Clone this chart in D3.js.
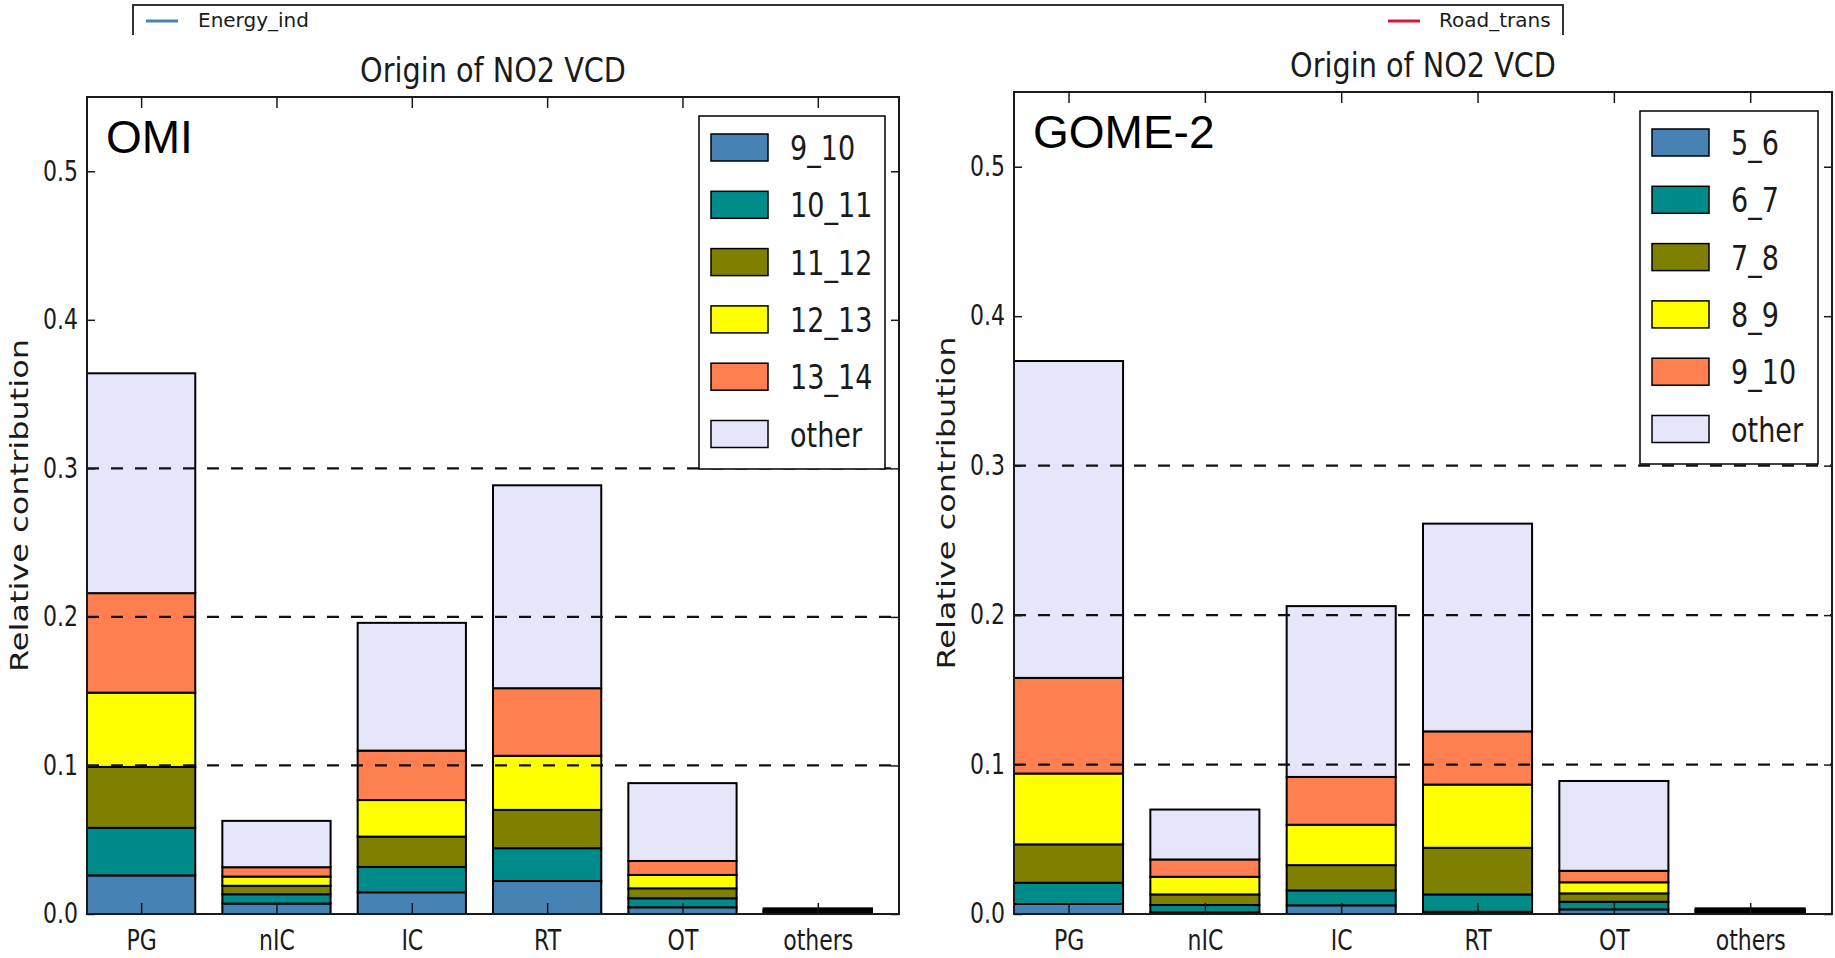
<!DOCTYPE html>
<html>
<head>
<meta charset="utf-8">
<script src="https://cdn.jsdelivr.net/npm/d3@7"></script>
<style>
  html, body { margin: 0; padding: 0; background: #fff; }
  svg { display: block; }
</style>
</head>
<body>
<svg id="chart" width="1835" height="958"></svg>
<script>
// Source sectors on the x axis
const categories = ["PG", "nIC", "IC", "RT", "OT", "others"];

// Overpass-hour bins for each instrument
const omiBins  = ["9_10", "10_11", "11_12", "12_13", "13_14", "other"];
const gomeBins = ["5_6", "6_7", "7_8", "8_9", "9_10", "other"];

const binColors = ["#4682b4", "#008b8b", "#808000", "#ffff00", "#ff7f50", "#e6e6fa"];

// OMI: relative contribution per bin, one value per sector
const omi_9_10  = [0.0260, 0.0070, 0.0146, 0.0222, 0.0045, 0.0006];
const omi_10_11 = [0.0320, 0.0063, 0.0171, 0.0221, 0.0061, 0.0006];
const omi_11_12 = [0.0410, 0.0057, 0.0204, 0.0258, 0.0067, 0.0006];
const omi_12_13 = [0.0500, 0.0062, 0.0246, 0.0364, 0.0090, 0.0006];
const omi_13_14 = [0.0670, 0.0063, 0.0333, 0.0455, 0.0094, 0.0006];
const omi_other = [0.1480, 0.0312, 0.0860, 0.1366, 0.0524, 0.0008];

// GOME-2: relative contribution per bin, one value per sector
const gome_5_6   = [0.0067, 0.0011, 0.0058, 0.0015, 0.0031, 0.0006];
const gome_6_7   = [0.0142, 0.0049, 0.0100, 0.0116, 0.0051, 0.0006];
const gome_7_8   = [0.0257, 0.0071, 0.0169, 0.0312, 0.0056, 0.0006];
const gome_8_9   = [0.0474, 0.0118, 0.0270, 0.0423, 0.0074, 0.0006];
const gome_9_10  = [0.0640, 0.0116, 0.0320, 0.0356, 0.0077, 0.0006];
const gome_other = [0.2120, 0.0334, 0.1143, 0.1390, 0.0601, 0.0008];

const yTicks = [0.0, 0.1, 0.2, 0.3, 0.4, 0.5];
const gridLevels = [0.1, 0.2, 0.3];
const yMax = 0.55;
const barWidth = 0.8;

const titleText = "Origin of NO2 VCD";
const yLabelText = "Relative contribution";
const topLegend = [
  { name: "Energy_ind", color: "#4682b4" },
  { name: "Road_trans", color: "#dc143c" }
];

const panels = [
  { tag: "OMI", bins: omiBins,
    series: [omi_9_10, omi_10_11, omi_11_12, omi_12_13, omi_13_14, omi_other],
    x0: 87, x1: 899, y0: 914, y1: 97, legendW: 186, ylabX: 28, titleY: 82 },
  { tag: "GOME-2", bins: gomeBins,
    series: [gome_5_6, gome_6_7, gome_7_8, gome_8_9, gome_9_10, gome_other],
    x0: 1014, x1: 1832, y0: 914, y1: 92, legendW: 178, ylabX: 955, titleY: 77 }
];

const svg = d3.select("#chart");
const INK = "#1a1a1a";
const PLOT_FONT = "'DejaVu Sans', sans-serif";
const TAG_FONT = "'Liberation Sans', Arial, sans-serif";
const SQ = 0.8; // horizontal squeeze of the plotting font

// Figure-level legend strip at the top
const strip = svg.append("g");
strip.append("path")
  .attr("d", "M133,35V5H1563V35")
  .attr("fill", "none").attr("stroke", "#333").attr("stroke-width", 2);
const legPos = [{ lx: 146, tx: 198 }, { lx: 1388, tx: 1439 }];
topLegend.forEach((d, i) => {
  strip.append("line")
    .attr("x1", legPos[i].lx).attr("x2", legPos[i].lx + 32)
    .attr("y1", 21).attr("y2", 21)
    .attr("stroke", d.color).attr("stroke-width", 3);
  strip.append("text")
    .attr("x", legPos[i].tx).attr("y", 27)
    .style("font-family", PLOT_FONT)
    .style("font-size", "20px")
    .style("fill", INK)
    .text(d.name);
});

panels.forEach(p => {
  const g = svg.append("g");
  const x = d3.scaleLinear().domain([0, categories.length]).range([p.x0, p.x1]);
  const y = d3.scaleLinear().domain([0, yMax]).range([p.y0, p.y1]);

  const rows = categories.map((c, i) => {
    const r = { cat: c, idx: i };
    p.bins.forEach((b, k) => { r[b] = p.series[k][i]; });
    return r;
  });
  const stacked = d3.stack().keys(p.bins)(rows);
  const color = d3.scaleOrdinal().domain(p.bins).range(binColors);

  // stacked bars
  g.append("g").selectAll("g")
    .data(stacked)
    .join("g")
      .attr("fill", d => color(d.key))
    .selectAll("rect")
    .data(d => d)
    .join("rect")
      .attr("x", d => x(d.data.idx))
      .attr("width", d => x(d.data.idx + barWidth) - x(d.data.idx))
      .attr("y", d => y(d[1]))
      .attr("height", d => y(d[0]) - y(d[1]))
      .attr("stroke", "#000")
      .attr("stroke-width", 2);

  // dashed reference lines
  g.append("g").selectAll("line")
    .data(gridLevels)
    .join("line")
      .attr("x1", p.x0).attr("x2", p.x1)
      .attr("y1", d => y(d)).attr("y2", d => y(d))
      .attr("stroke", "#111").attr("stroke-width", 2.3)
      .attr("stroke-dasharray", "12,12");

  // axes with inward ticks on all four sides
  const left = g.append("g").attr("transform", `translate(${p.x0},0)`)
    .call(d3.axisLeft(y).tickValues(yTicks).tickSize(-8).tickPadding(9).tickFormat(d3.format(".1f")));
  const right = g.append("g").attr("transform", `translate(${p.x1},0)`)
    .call(d3.axisRight(y).tickValues(yTicks).tickSize(-8).tickFormat(""));
  const bottom = g.append("g").attr("transform", `translate(0,${p.y0})`)
    .call(d3.axisBottom(x).tickValues(categories.map((c, i) => i + barWidth / 2))
      .tickSize(-11).tickPadding(16).tickFormat((d, i) => categories[i]));
  const top = g.append("g").attr("transform", `translate(0,${p.y1})`)
    .call(d3.axisTop(x).tickValues(categories.map((c, i) => i + barWidth / 2))
      .tickSize(-11).tickFormat(""));

  [left, right, bottom, top].forEach(a => {
    a.select(".domain").remove();
    a.selectAll(".tick line").attr("stroke", INK).attr("stroke-width", 1.5);
  });
  [left, bottom].forEach(a => {
    a.attr("font-family", null).attr("font-size", null);
  });
  left.selectAll(".tick text")
    .attr("x", null)
    .attr("transform", `translate(-9,0) scale(${SQ},1)`)
    .style("font-family", PLOT_FONT).style("font-size", "27.5px").style("fill", INK);
  bottom.selectAll(".tick text")
    .attr("transform", `scale(${SQ},1)`)
    .style("font-family", PLOT_FONT).style("font-size", "27.5px").style("fill", INK);

  // frame
  g.append("rect")
    .attr("x", p.x0).attr("y", p.y1)
    .attr("width", p.x1 - p.x0).attr("height", p.y0 - p.y1)
    .attr("fill", "none").attr("stroke", INK).attr("stroke-width", 2);

  // per-panel legend
  const lg = g.append("g")
    .attr("transform", `translate(${p.x1 - 14 - p.legendW},${p.y1 + 19})`);
  lg.append("rect")
    .attr("width", p.legendW).attr("height", 353)
    .attr("fill", "#fff").attr("stroke", "#000").attr("stroke-width", 1.5);
  const items = lg.selectAll("g.item")
    .data(p.bins)
    .join("g")
      .attr("class", "item")
      .attr("transform", (d, i) => `translate(0,${18 + i * 57.3})`);
  items.append("rect")
    .attr("x", 12).attr("width", 57).attr("height", 27)
    .attr("fill", d => color(d))
    .attr("stroke", "#000").attr("stroke-width", 1.5);
  items.append("text")
    .attr("transform", `translate(91,26) scale(0.82,1)`)
    .style("font-family", PLOT_FONT)
    .style("font-size", "33px")
    .style("fill", INK)
    .text(d => d);

  // title
  g.append("text")
    .attr("transform", `translate(${(p.x0 + p.x1) / 2},${p.titleY}) scale(0.87,1)`)
    .attr("text-anchor", "middle")
    .style("font-family", PLOT_FONT)
    .style("font-size", "33px")
    .style("fill", INK)
    .text(titleText);

  // y label
  g.append("text")
    .attr("transform", `translate(${p.ylabX},${(p.y0 + p.y1) / 2}) scale(${SQ},1) rotate(-90)`)
    .attr("text-anchor", "middle")
    .style("font-family", PLOT_FONT)
    .style("font-size", "32px")
    .style("fill", INK)
    .text(yLabelText);

  // instrument tag
  g.append("text")
    .attr("x", p.x0 + 19)
    .attr("y", p.y1 + 56)
    .style("font-family", TAG_FONT)
    .style("font-size", "46px")
    .style("fill", "#000")
    .text(p.tag);
});
</script>
</body>
</html>
